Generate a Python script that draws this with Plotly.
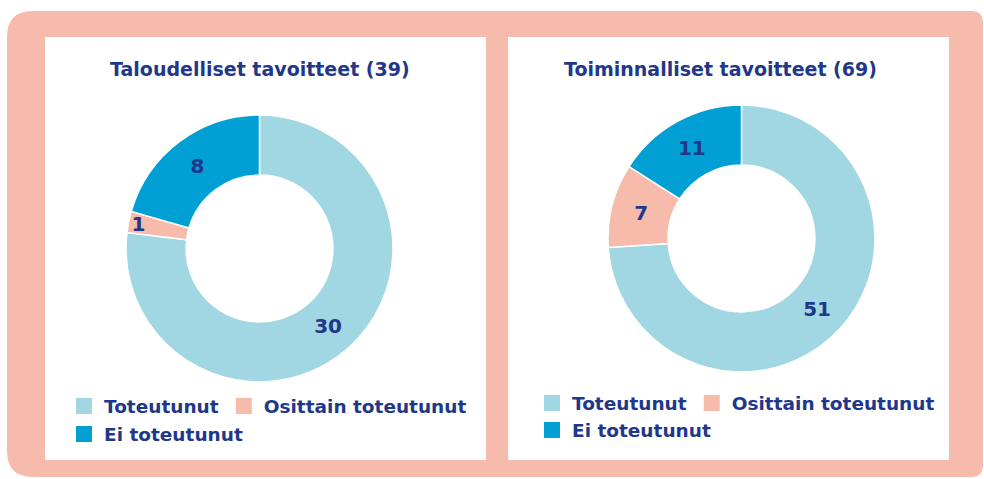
import plotly.graph_objects as go

labels = ["Toteutunut", "Osittain toteutunut", "Ei toteutunut"]
colors = ["#a1d7e2", "#f6bbab", "#00a0d5"]

talous_title = "Taloudelliset tavoitteet"
talous_values = [30, 1, 8]

toiminta_title = "Toiminnalliset tavoitteet"
toiminta_values = [51, 7, 11]

NAVY = "#21388a"
SALMON = "#f6bbac"
FONT = "DejaVu Sans, Verdana, sans-serif"
W, H = 984, 479


def fx(x):
    return x / W


def fy(y):
    return 1 - y / H


def rounded_path(x0, y0, x1, y1, r_left, r_right):
    # pixel box -> paper path with rounded corners
    pts = [
        f"M{fx(x0 + r_left)},{fy(y0)}",
        f"L{fx(x1 - r_right)},{fy(y0)}",
        f"Q{fx(x1)},{fy(y0)} {fx(x1)},{fy(y0 + r_right)}",
        f"L{fx(x1)},{fy(y1 - r_right)}",
        f"Q{fx(x1)},{fy(y1)} {fx(x1 - r_right)},{fy(y1)}",
        f"L{fx(x0 + r_left)},{fy(y1)}",
        f"Q{fx(x0)},{fy(y1)} {fx(x0)},{fy(y1 - r_left)}",
        f"L{fx(x0)},{fy(y0 + r_left)}",
        f"Q{fx(x0)},{fy(y0)} {fx(x0 + r_left)},{fy(y0)}",
        "Z",
    ]
    return " ".join(pts)


def donut_domain(cx, cy, r):
    return dict(x=[fx(cx - r), fx(cx + r)], y=[fy(cy + r), fy(cy - r)])


fig = go.Figure()

panels = [
    dict(values=talous_values, title=talous_title, cx=259.5, cy=248.5, box=(45, 37, 486, 460),
         title_x=260, leg_x=64, leg_y=(387.5, 415.5), legs=("legend", "legend3")),
    dict(values=toiminta_values, title=toiminta_title, cx=741.5, cy=238.5, box=(508, 37, 949, 460),
         title_x=720, leg_x=532, leg_y=(384.5, 411.5), legs=("legend2", "legend4")),
]

shapes = [dict(type="path", xref="paper", yref="paper", path=rounded_path(7, 11, 983, 477, 26, 12),
               fillcolor=SALMON, line=dict(width=0), layer="below")]
annotations = []

for p in panels:
    x0, y0, x1, y1 = p["box"]
    shapes.append(dict(type="rect", xref="paper", yref="paper", x0=fx(x0), x1=fx(x1), y0=fy(y1), y1=fy(y0),
                       fillcolor="white", line=dict(width=0), layer="below"))
    fig.add_trace(go.Pie(
        labels=labels,
        values=p["values"],
        hole=0.55,
        sort=False,
        direction="clockwise",
        rotation=0,
        marker=dict(colors=colors, line=dict(color="white", width=1.5)),
        textinfo="value",
        textposition="inside",
        insidetextorientation="horizontal",
        textfont=dict(family=FONT, size=20, color=NAVY, weight="bold"),
        domain=donut_domain(p["cx"], p["cy"], 133.5),
        showlegend=False,
        hoverinfo="label+value",
    ))
    annotations.append(dict(
        text=f"{p['title']} ({sum(p['values'])})",
        x=fx(p["title_x"]), y=fy(69), xref="paper", yref="paper",
        showarrow=False, xanchor="center", yanchor="middle",
        font=dict(family=FONT, size=19, color=NAVY, weight="bold"),
    ))
    for i, (lab, col) in enumerate(zip(labels, colors)):
        fig.add_trace(go.Scatter(
            x=[None], y=[None], mode="markers", name=lab,
            marker=dict(symbol="square", size=16, color=col),
            legend=p["legs"][0] if i < 2 else p["legs"][1],
            showlegend=True, hoverinfo="skip",
        ))

legend_style = dict(orientation="h", xanchor="left", yanchor="top", bgcolor="rgba(0,0,0,0)",
                    font=dict(family=FONT, size=18.5, color=NAVY, weight="bold"), itemwidth=30)

fig.update_layout(
    width=W,
    height=H,
    margin=dict(l=0, r=0, t=0, b=0),
    paper_bgcolor="white",
    plot_bgcolor="rgba(0,0,0,0)",
    xaxis=dict(visible=False),
    yaxis=dict(visible=False),
    shapes=shapes,
    annotations=annotations,
    uniformtext=dict(minsize=20, mode="show"),
    legend=dict(legend_style, x=fx(panels[0]["leg_x"]), y=fy(panels[0]["leg_y"][0])),
    legend3=dict(legend_style, x=fx(panels[0]["leg_x"]), y=fy(panels[0]["leg_y"][1])),
    legend2=dict(legend_style, x=fx(panels[1]["leg_x"]), y=fy(panels[1]["leg_y"][0])),
    legend4=dict(legend_style, x=fx(panels[1]["leg_x"]), y=fy(panels[1]["leg_y"][1])),
)

# page body has a default 8px margin; drop it so the figure fills the window
fig.write_html("out.html", config={"displayModeBar": False},
               post_script="document.body.style.margin = '0';")
